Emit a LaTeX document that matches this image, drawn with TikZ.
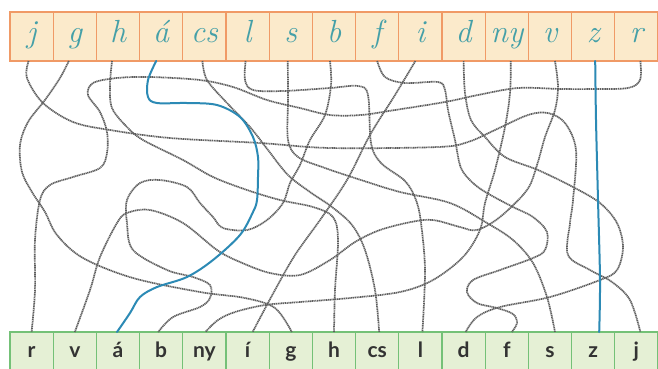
\documentclass[tikz,border=0pt]{standalone}
\usepackage{fontspec}
\newfontfamily\printfont{Lato}
\definecolor{topfill}{HTML}{FBEACB}
\definecolor{topline}{HTML}{F09A66}
\definecolor{botfill}{HTML}{E5F0D5}
\definecolor{botline}{HTML}{74C177}
\definecolor{cursiveink}{HTML}{45A0A8}
\definecolor{printink}{HTML}{333333}
\definecolor{mazegray}{HTML}{5E5E5E}
\definecolor{solblue}{HTML}{2C8AB5}
\begin{document}
\begin{tikzpicture}[x=1pt,y=-1pt,
  topbox/.style={draw=topline, fill=topfill, line width=1.1pt, minimum width=43.2pt, minimum height=49pt,
    inner sep=0pt, outer sep=0pt, text=cursiveink, text height=18pt, text depth=7pt,
    font=\fontsize{32}{32}\selectfont\itshape},
  botbox/.style={draw=botline, fill=botfill, line width=1.1pt, minimum width=43.2pt, minimum height=40pt,
    inner sep=0pt, outer sep=0pt, text=printink, text height=10pt, text depth=0pt,
    font=\printfont\bfseries\fontsize{21}{21}\selectfont},
  maze/.style={draw=mazegray, line width=1.7pt, dash pattern=on 1.2pt off 0.6pt, line join=round},
  sol/.style={draw=solblue, line width=2pt, line cap=round, line join=round},
  sm/.style={smooth, tension=0.55}]
\useasboundingbox (0,0) rectangle (658,368);
\fill[white] (0,0) rectangle (658,368);
% top row
\foreach \n/\t [count=\i from 0] in {tj/j,tg/g,th/h,ta/á,tcs/cs,tl/l,ts/s,tb/b,tf/f,ti/i,td/d,tny/ny,tv/v,tz/z,tr/r}
  \node[topbox] (\n) at ({10+43.2*(\i+0.5)},36.5) {\t};
% bottom row
\foreach \n/\t [count=\i from 0] in {br/r,bv/v,ba/á,bb/b,bny/ny,bi/í,bg/g,bh/h,bcs/cs,bl/l,bd/d,bf/f,bs/s,bz/z,bj/j}
  \node[botbox] (\n) at ({10+43.2*(\i+0.5)},352) {\t};
% maze paths
\draw[maze] plot[sm] coordinates {([xshift=-3pt]tj.south) (27,78) (43,103) (73,122) (110,130) (170,138) (260,143) (330,148) (438,147) (468,142) (495,130) (528,115) (548,113) (565,123) (576,150) (573,200) (570,223) (568,255) (590,270) (612,282) (630,300) ([xshift=4pt]bj.north)};
\draw[maze] plot[sm] coordinates {([xshift=-6pt]tg.south) (60,78) (45,100) (28,122) (20,145) (22,172) (32,192) (45,212) (57,235) (83,258) (133,278) (200,292) (245,298) (275,308) ([xshift=1pt]bg.north)};
\draw[maze] plot[sm] coordinates {([xshift=-6pt]th.south) (110,85) (112,108) (127,127) (143,140) (183,160) (213,177) (247,190) (280,200) (313,207) (333,217) (338,240) (335,290) (bh.north)};
\draw[maze] plot[sm] coordinates {([xshift=-2pt]tcs.south) (207,80) (227,103) (250,127) (268,150) (288,175) (310,192) (332,207) (352,225) (365,250) (375,290) ([xshift=2pt]bcs.north)};
\draw[maze] plot[sm] coordinates {([xshift=-2pt]tl.south) (245,80) (253,90) (283,91) (330,88) (358,86) (368,95) (371,143) (381,163) (405,181) (416,200) (421,223) (425,270) ([xshift=2pt]bl.north)};
\draw[maze] plot[sm] coordinates {([xshift=-3pt]ts.south) (288,100) (288,140) (298,157) (325,168) (361,180) (400,192) (450,203) (487,223) (513,240) (533,263) (547,297) ([xshift=5pt]bs.north)};
\draw[maze] plot[sm] coordinates {([xshift=-4pt]tb.south) (331,85) (325,115) (310,140) (300,165) (290,183) (283,203) (267,220) (247,230) (223,228) (213,217) (200,203) (187,187) (160,180) (140,183) (127,200) (127,223) (133,250) (167,270) (193,277) (210,285) (210,298) (200,307) (173,317) ([xshift=-3pt]bb.north)};
\draw[maze] plot[sm] coordinates {(tf.south) (385,77) (405,83) (438,82) (445,90) (448,110) (455,140) (461,168) (473,183) (487,193) (513,207) (533,217) (547,232) (545,250) (533,258) (500,270) (473,280) (467,292) (477,303) (497,308) (513,314) (517,323) ([xshift=5pt]bf.north)};
\draw[maze] plot[sm] coordinates {([xshift=-5pt]ti.south) (395,95) (370,135) (347,180) (320,220) (295,255) (275,290) (260,318) ([xshift=5pt]bi.north)};
\draw[maze] plot[sm] coordinates {(td.south) (465,93) (471,120) (485,137) (505,157) (538,170) (573,187) (600,203) (617,223) (623,247) (617,270) (600,280) (550,297) (500,307) (477,317) ([xshift=2pt]bd.north)};
\draw[maze] plot[sm] coordinates {([xshift=4pt]tny.south) (510,93) (505,127) (495,170) (485,203) (480,230) (463,257) (433,280) (400,292) (350,298) (300,302) (265,305) (235,312) (218,320) ([xshift=1pt]bny.north)};
\draw[maze] plot[sm] coordinates {([xshift=5pt]tv.south) (558,87) (555,110) (545,137) (537,165) (527,190) (500,217) (477,230) (460,227) (433,220) (411,222) (380,230) (355,242) (330,260) (300,275) (270,273) (240,262) (217,250) (183,223) (150,210) (127,213) (117,223) (100,257) (90,290) (bv.north)};
\draw[maze] plot[sm] coordinates {([xshift=4pt]tr.south) (640,80) (628,88) (595,89) (561,89) (518,88) (478,95) (445,102) (395,110) (361,115) (330,115) (300,108) (267,100) (233,87) (200,80) (150,77) (117,78) (93,83) (88,95) (100,112) (107,132) (107,153) (100,168) (73,177) (50,185) (40,200) (35,240) (35,290) (br.north)};
% solution paths
\draw[sol] plot[sm] coordinates {([xshift=-5pt]ta.south) (148,80) (148,97) (157,103) (187,103) (217,105) (240,117) (253,137) (258,157) (258,177) (257,200) (253,212) (240,235) (213,260) (187,277) (157,287) (140,297) (130,313) ([xshift=-1pt]ba.north)};
\draw[sol] plot[sm] coordinates {([xshift=2pt]tz.south) (596,120) (598,200) (600,280) ([xshift=6pt]bz.north)};
\end{tikzpicture}
\end{document}
